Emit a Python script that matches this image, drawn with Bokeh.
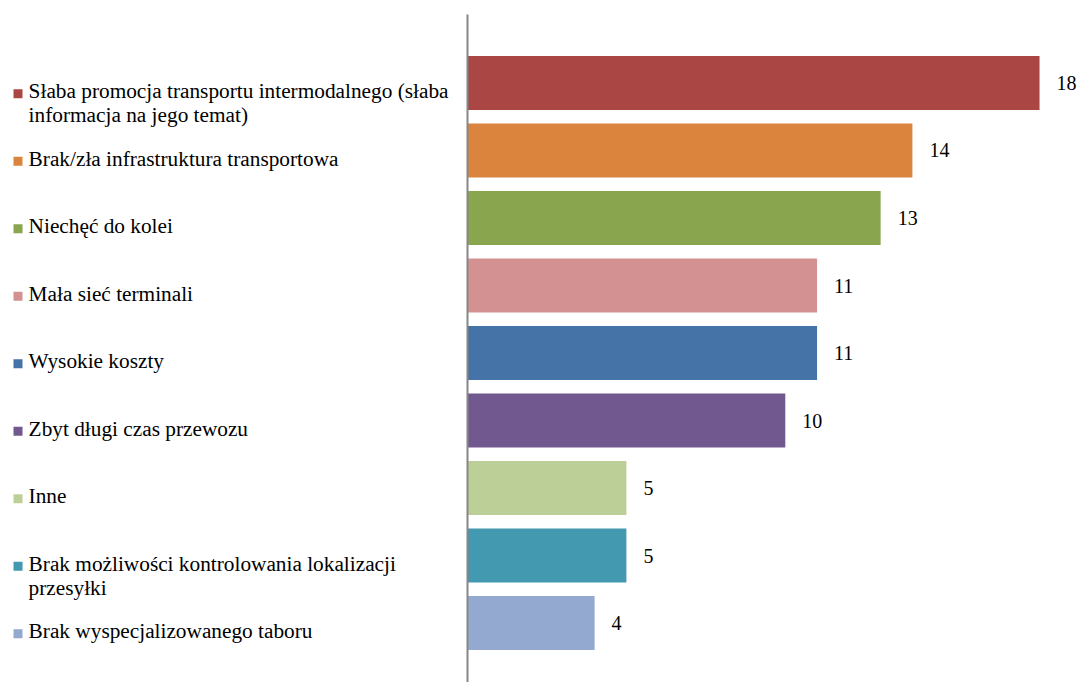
from bokeh.plotting import figure
from bokeh.models import Range1d, ColumnDataSource
from bokeh.core.properties import value
from bokeh.embed import file_html
from bokeh.resources import INLINE

categories = [
    "Słaba promocja transportu intermodalnego (słaba\ninformacja na jego temat)",
    "Brak/zła infrastruktura transportowa",
    "Niechęć do kolei",
    "Mała sieć terminali",
    "Wysokie koszty",
    "Zbyt długi czas przewozu",
    "Inne",
    "Brak możliwości kontrolowania lokalizacji\nprzesyłki",
    "Brak wyspecjalizowanego taboru",
]
values = [18, 14, 13, 11, 11, 10, 5, 5, 4]
colors = ["#AA4643", "#DB843D", "#89A54E", "#D39191", "#4572A7",
          "#71588F", "#BBCF96", "#4299B0", "#94A9D0"]

idx = list(range(len(values)))
line1 = [c.split("\n")[0] for c in categories]
line2 = [c.split("\n")[1] if "\n" in c else "" for c in categories]
marker_y = [i + 0.16 for i in idx]

src = ColumnDataSource(dict(y=idx, my=marker_y, v=values, c=colors, l1=line1, l2=line2,
                            lab=[str(v) for v in values]))

W, H = 1077, 682
p = figure(width=W, height=H, output_backend="svg", toolbar_location=None,
           x_range=Range1d(-14.695, 19.195), y_range=Range1d(8.881, -1.222),
           min_border=0, min_border_left=0, min_border_right=0,
           min_border_top=0, min_border_bottom=0)
p.axis.visible = False
p.grid.visible = False
p.outline_line_color = None
p.background_fill_color = "white"

FONT = value("Liberation Serif")

p.hbar(y="y", right="v", left=0, height=0.8, fill_color="c", line_color=None, source=src)

# vertical axis line
p.segment(x0=0, y0=-1.015, x1=0, y1=9.0, line_color="#868686", line_width=2)

# value labels
p.text(x="v", y="y", text="lab", source=src, x_offset=17, text_align="left",
       text_baseline="middle", text_font=FONT, text_font_size="20px", text_color="black")

# legend markers
p.rect(x=-14.144, y="my", width=9, height=9, width_units="screen", height_units="screen",
       fill_color="c", line_color=None, source=src)
# legend labels
p.text(x=-13.81, y="y", text="l1", source=src, y_offset=8.3, text_align="left",
       text_baseline="middle", text_font=FONT, text_font_size="21.3px", text_color="black")
p.text(x=-13.81, y="y", text="l2", source=src, y_offset=32, text_align="left",
       text_baseline="middle", text_font=FONT, text_font_size="21.3px", text_color="black")

open("out.html", "w").write(file_html(p, INLINE))
